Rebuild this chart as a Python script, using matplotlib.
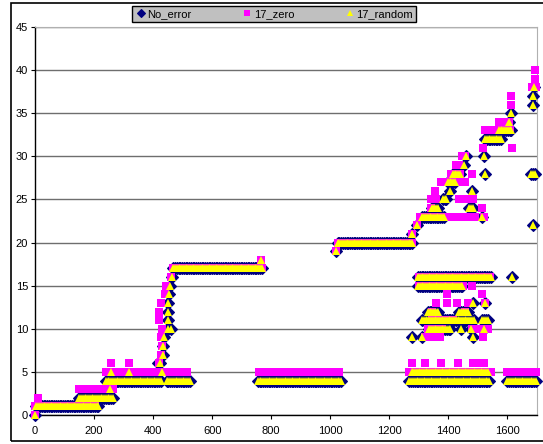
import numpy as np
import matplotlib.pyplot as plt
from matplotlib.patches import Rectangle

# runs of equal value: (x_start, x_end, y)
noerr_runs = [
    (5, 215, 1), (150, 265, 2), (240, 430, 4), (446, 527, 4),
    (468, 772, 17), (755, 1040, 4), (1025, 1282, 20),
    (1268, 1541, 4), (1600, 1698, 4),
    (1335, 1410, 10), (1311, 1490, 11), (1515, 1535, 11),
    (1330, 1366, 12), (1436, 1470, 12),
    (1297, 1447, 15), (1297, 1545, 16),
    (1312, 1385, 23), (1346, 1369, 24), (1470, 1487, 24),
    (1381, 1398, 25), (1398, 1426, 27), (1415, 1443, 28),
    (1680, 1692, 28), (1524, 1582, 32), (1571, 1617, 33),
]
# single points: (x, y)
noerr_pts = [
    (0, 0), (416, 6), (424, 6), (433, 7), (433, 8), (438, 9), (450, 10),
    (462, 10), (450, 11), (452, 12), (452, 13), (455, 14), (458, 15),
    (465, 16), (1020, 19), (1276, 21), (1293, 22), (1278, 9), (1311, 9),
    (1483, 9), (1441, 10), (1475, 10), (1520, 10), (1483, 13), (1523, 13),
    (1615, 16), (1514, 23), (1404, 26), (1480, 26), (1523, 28), (1454, 29),
    (1460, 30), (1522, 30), (1605, 34), (1612, 35), (1687, 36), (1687, 37),
    (1690, 38), (1687, 22),
]

zero_runs = [
    (0, 205, 1), (150, 265, 3), (240, 520, 5),
    (468, 772, 17), (760, 1034, 5), (1025, 1282, 20),
    (1268, 1545, 5), (1600, 1700, 5),
    (1330, 1380, 10), (1480, 1535, 10), (1345, 1420, 11),
    (1300, 1450, 15), (1300, 1545, 16),
    (1305, 1495, 23), (1340, 1360, 25), (1436, 1487, 25),
    (1375, 1440, 27), (1410, 1440, 28), (1425, 1440, 29), (1445, 1460, 30),
    (1524, 1612, 33), (1570, 1610, 34), (1683, 1695, 38),
]
zero_pts = [
    (0, 0), (10, 2), (256, 6), (318, 6), (420, 6), (425, 7), (430, 8),
    (425, 9), (430, 10), (420, 11), (420, 12), (425, 13), (440, 14),
    (445, 15), (462, 16), (765, 18), (1020, 19), (1276, 21), (1293, 22),
    (1278, 6), (1321, 6), (1375, 6), (1432, 6), (1483, 6), (1494, 6),
    (1520, 6), (1321, 9), (1348, 9), (1372, 9), (1518, 9),
    (1345, 12), (1455, 12), (1358, 13), (1395, 13), (1430, 13), (1465, 13),
    (1523, 13), (1395, 14), (1515, 14), (1480, 15), (1520, 23), (1340, 24),
    (1515, 24), (1353, 26), (1455, 27), (1480, 28), (1518, 31), (1614, 31),
    (1612, 36), (1612, 37), (1693, 39), (1693, 40),
]

random_runs = [
    (5, 215, 1), (150, 265, 2), (240, 430, 4), (446, 527, 4),
    (468, 772, 17), (755, 1040, 4), (1025, 1282, 20),
    (1268, 1541, 4), (1600, 1698, 4), (1275, 1535, 5),
    (1335, 1410, 10), (1311, 1490, 11), (1515, 1535, 11),
    (1330, 1366, 12), (1436, 1470, 12),
    (1297, 1447, 15), (1297, 1545, 16),
    (1312, 1385, 23), (1346, 1369, 24), (1470, 1487, 24),
    (1381, 1398, 25), (1398, 1426, 27), (1415, 1443, 28),
    (1680, 1692, 28), (1524, 1582, 32), (1571, 1617, 33),
]
random_pts = [
    (0, 0), (255, 3), (256, 5), (318, 5), (430, 5), (424, 6), (433, 7),
    (433, 8), (438, 9), (450, 10), (462, 10), (450, 11), (452, 12),
    (452, 13), (455, 14), (458, 15), (465, 16), (765, 18), (1020, 19),
    (1276, 21), (1293, 22), (1278, 9), (1311, 9), (1483, 9), (1441, 10),
    (1475, 10), (1520, 10), (1483, 13), (1523, 13), (1514, 23), (1404, 26),
    (1454, 29), (1460, 30), (1522, 30), (1612, 35), (1690, 38), (1687, 22),
    (1615, 16), (1480, 26), (1523, 28), (1605, 34), (1687, 36), (1687, 37),
]

series = ['No_error', '17_zero', '17_random']


def expand(runs, pts, step=6):
    xs, ys = [], []
    for x0, x1, y in runs:
        xx = np.arange(x0, x1 + 1, step)
        xs.extend(xx)
        ys.extend([y] * len(xx))
    for x, y in pts:
        xs.append(x)
        ys.append(y)
    return np.array(xs), np.array(ys)


plt.rcParams['font.family'] = ['Liberation Sans', 'DejaVu Sans']

fig = plt.figure(figsize=(5.43, 4.44), dpi=100)
ax = fig.add_axes([35 / 543, 29 / 444, 502 / 543, 388 / 444])

# chart area border
fig.patches.append(Rectangle((11 / 543, 3 / 444), 1.0, 438 / 444,
                             transform=fig.transFigure, fill=False,
                             edgecolor='black', linewidth=1.2))

x, y = expand(noerr_runs, noerr_pts)
ax.plot(x, y, 'D', color='#000080', markersize=6.2, markeredgewidth=0.8,
        label=series[0], clip_on=False, zorder=3)
x, y = expand(zero_runs, zero_pts)
ax.plot(x, y, 's', color='#FF00FF', markersize=5.4, markeredgewidth=0,
        label=series[1], clip_on=False, zorder=4)
x, y = expand(random_runs, random_pts)
ax.plot(x, y, '^', color='#FFFF00', markersize=5.4, markeredgewidth=0,
        label=series[2], clip_on=False, zorder=5)

ax.set_xlim(0, 1700)
ax.set_ylim(0, 45)
ax.set_xticks(np.arange(0, 1700, 200))
ax.set_yticks(np.arange(0, 46, 5))
ax.yaxis.grid(True, color='#6e6e6e', linewidth=1)
ax.set_axisbelow(True)
ax.tick_params(labelsize=8, length=3, width=0.8, pad=2)
ax.tick_params(axis='x', pad=5)
for s in ['top', 'right']:
    ax.spines[s].set_color('#b0b0b0')
for s in ['left', 'bottom']:
    ax.spines[s].set_color('black')
    ax.spines[s].set_linewidth(1)

leg = fig.legend(loc='center', bbox_to_anchor=(274 / 543, 1 - 14 / 444),
                 ncol=3, fontsize=8, frameon=True, fancybox=False,
                 facecolor='#c0c0c0', edgecolor='black', framealpha=1,
                 handletextpad=0.1, columnspacing=4.5, borderpad=0.25,
                 handlelength=1.0, markerscale=0.7)
leg.get_frame().set_linewidth(1)

fig.savefig('out.png', dpi=100)
